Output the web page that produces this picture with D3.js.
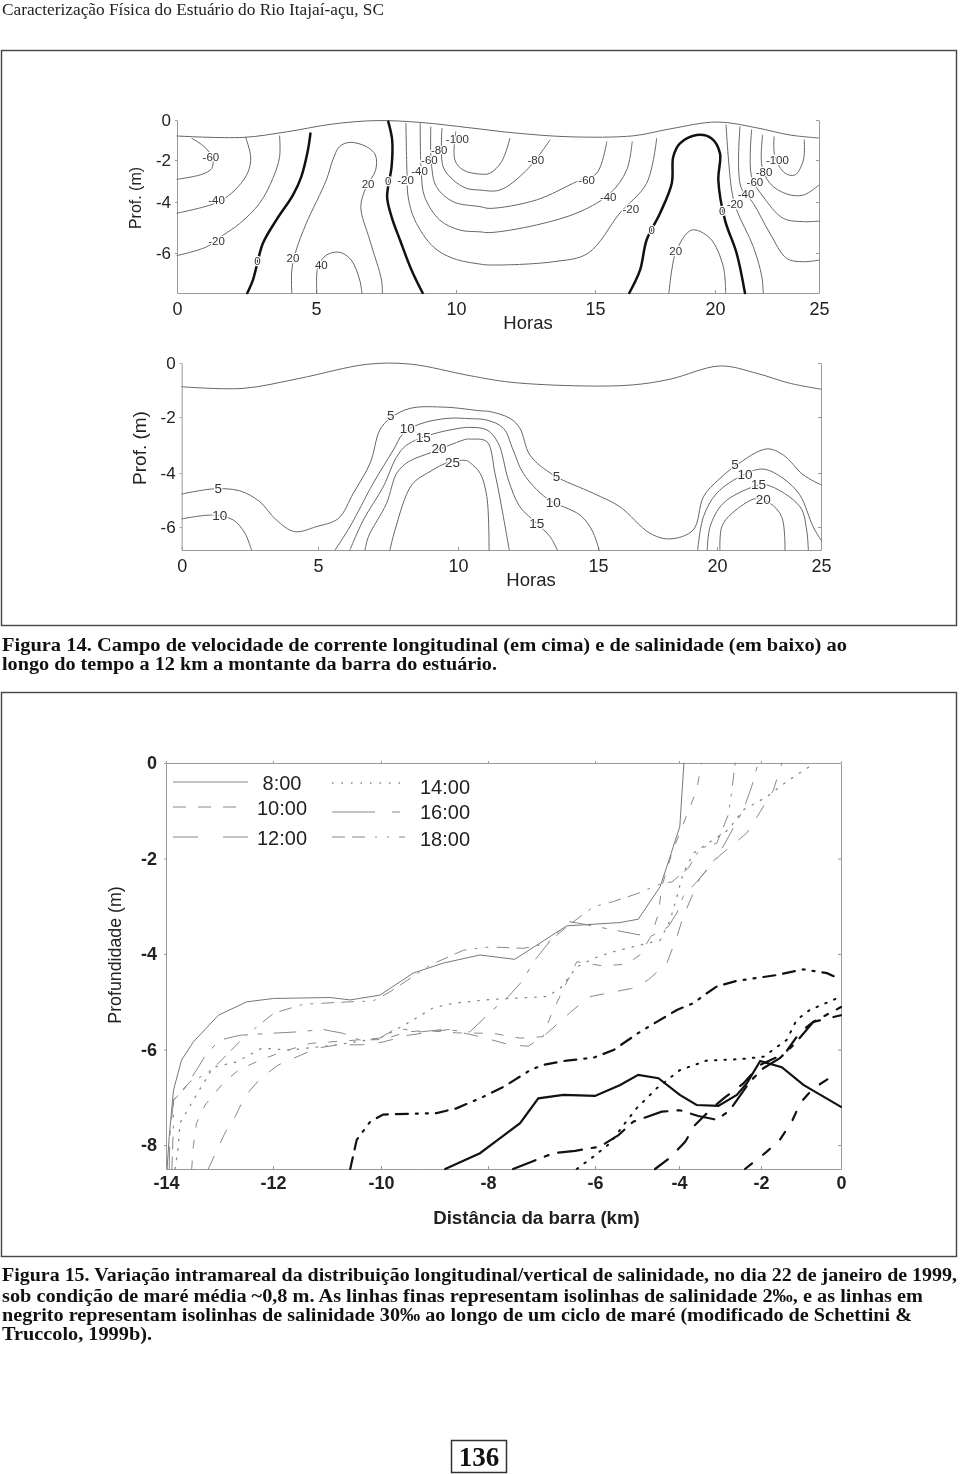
<!DOCTYPE html>
<html>
<head>
<meta charset="utf-8">
<script src="https://d3js.org/d3.v7.min.js"></script>
<style>
  html, body { margin: 0; padding: 0; background: #fff; }
  svg { display: block; }
  .plot { filter: blur(0.55px); }
  .axis path, .axis line { stroke: #999; stroke-width: 1; }
  .axis text { font-family: "Liberation Sans", Arial, sans-serif; fill: #222; }
  .title { font-family: "Liberation Sans", Arial, sans-serif; fill: #222; text-anchor: middle; }
  .clabel { font-family: "Liberation Sans", Arial, sans-serif; fill: #333; text-anchor: middle;
            dominant-baseline: central; paint-order: stroke; stroke: #fff; stroke-width: 2.5px; }
  .caption { font-family: "Liberation Serif", serif; font-weight: bold; font-size: 18px; fill: #111; }
  .line { fill: none; }
</style>
</head>
<body>
<svg width="960" height="1474"></svg>
<script>
var svg = d3.select("svg");

// ---- top plot: velocidade (horas, profundidade)
var hourTicks = [0, 5, 10, 15, 20, 25];
var depthTicksA = [0, -2, -4, -6];

var surfaceA = [[0,-0.8],[2.38,-0.87],[3.95,-0.59],[5.6,-0.2],[7.17,-0.03],[8.71,-0.12],[10.5,-0.39],[12.05,-0.64],[14.1,-0.84],[16.6,-0.79],[18.1,-0.45],[20.1,-0.1],[22,-0.39],[23.6,-0.75],[25,-0.9]];
var vel60L = [[0.54,-0.92],[1.01,-1.37],[1.28,-1.92],[1.25,-2.4],[0.9,-2.68],[0,-2.92]];
var vel40L = [[2.47,-0.87],[2.65,-1.84],[2.56,-2.56],[2.2,-3.27],[1.72,-3.82],[1.19,-4.12],[0,-4.44]];
var vel20L = [[3.69,-0.8],[3.69,-1.84],[3.45,-2.87],[2.97,-4.05],[2.26,-4.84],[1.66,-5.3],[1.06,-5.76],[0,-6.11]];
var vel20A = [[4.13,-7.7],[4.13,-6.72],[4.29,-5.88],[4.65,-4.84],[5.37,-2.95],[5.6,-2],[5.84,-1.33],[6.2,-1.12],[6.8,-1.33],[7.12,-1.75],[7.13,-2.48],[6.8,-3.27],[6.6,-4.18],[6.92,-5.49],[7.34,-7.15],[7.37,-7.7]];
var vel40A = [[5.03,-7.7],[5.07,-6.58],[5.37,-6.09],[5.84,-5.97],[6.26,-6.3],[6.56,-7.15],[6.64,-7.7]];
var vel20C = [[8.21,-0.17],[8.25,-2.63],[8.29,-3.75],[8.53,-4.71],[9.19,-5.76],[9.9,-6.23],[10.86,-6.47],[11.22,-6.51],[13.5,-6.37],[14.75,-6.01],[16.04,-4.43],[17.15,-3.11],[17.57,-0.92]];
var vel40C = [[8.72,-0.17],[8.76,-2.63],[8.88,-3.75],[9.42,-4.71],[10.14,-5.1],[10.86,-5.17],[11.22,-5.2],[12.9,-4.9],[14.46,-4.38],[15.63,-3.59],[16.32,-2.48],[16.55,-1.09]];
var vel60C = [[9.1,-0.34],[9.12,-2.16],[9.3,-3.27],[9.9,-3.99],[10.86,-4.18],[11.22,-4.25],[12.9,-3.9],[14.34,-3.03],[15.07,-2.63],[15.49,-1.09]];
var vel80C = [[9.5,-0.42],[9.54,-2.32],[9.9,-2.95],[10.38,-3.35],[10.86,-3.43],[11.58,-3.43],[12.54,-2.48],[13.38,-1]];
var vel100C = [[9.99,-0.59],[9.96,-2],[10.26,-2.48],[10.86,-2.67],[11.22,-2.63],[11.64,-2.08],[11.94,-0.92]];
var vel20B = [[18.08,-7.7],[18.2,-6.72],[18.4,-5.88],[19.03,-5.1],[19.79,-5.42],[20.4,-6.58],[20.51,-7.7]];
var vel100R = [[22.84,-0.84],[22.88,-1.84],[23.37,-2.63],[23.85,-2.71],[24.25,-2],[24.29,-1]];
var vel80R = [[22.29,-0.75],[22.25,-2.24],[22.64,-3.11],[23.45,-3.62],[24.25,-3.67],[25,-3.19]];
var vel60R = [[21.76,-0.5],[21.76,-2.8],[22.32,-3.75],[23.28,-4.64],[24.25,-4.77],[25,-4.75]];
var vel40R = [[21.2,-0.34],[21.24,-3.27],[21.84,-4.05],[22.64,-5.23],[23.45,-6.23],[24.25,-6.37],[25,-6.3]];
var vel20R = [[20.53,-0.25],[20.8,-3.43],[21.04,-4.31],[21.84,-5.75],[22.25,-7],[22.32,-7.7]];
var velZero1 = [[4.8,-0.67],[4.71,-1.5],[4.47,-2.8],[4.17,-3.67],[3.57,-4.71],[3.09,-5.62],[2.86,-6.58],[2.73,-7.15],[2.53,-7.7]];
var velZero2 = [[7.58,-0.08],[7.72,-1],[7.7,-2.32],[7.54,-3.75],[7.7,-4.58],[8,-5.49],[8.41,-6.72],[8.81,-7.7]];
var velZero3 = [[16.43,-7.7],[16.88,-6.72],[17.15,-5.49],[17.71,-4.44],[18.2,-3.11],[18.26,-1.84],[18.54,-1.17],[19.24,-0.75],[19.86,-0.92],[20.24,-1.67],[20.16,-2.95],[20.48,-4.71],[21.04,-6.01],[21.44,-7.7]];
var velLabels = [["-60",1.22,-1.84],["-40",1.42,-3.9],["-20",1.42,-5.52],["0",2.89,-6.34],["20",4.17,-6.23],["40",5.19,-6.51],["20",6.86,-3.16],["0",7.58,-2.99],["-20",8.2,-2.95],["-40",8.7,-2.5],["-60",9.05,-2],["-80",9.4,-1.48],["-100",10.05,-0.95],["-80",12.87,-2],["-60",14.7,-2.95],["-40",15.55,-3.75],["-20",16.49,-4.26],["0",17.36,-5.1],["20",18.36,-5.94],["0",20.35,-4.35],["-20",20.96,-4.08],["-40",21.49,-3.62],["-60",21.92,-3.06],["-80",22.36,-2.58],["-100",23,-2]];

// ---- middle plot: salinidade
var depthTicksB = [0, -2, -4, -6];
var surfaceB = [[0,-0.88],[2.25,-0.94],[4.32,-0.57],[6.74,-0.05],[8.29,-0.04],[10.43,-0.47],[11.86,-0.71],[14.48,-0.85],[16.48,-0.81],[18.03,-0.6],[20.14,-0.11],[21.9,-0.38],[23.5,-0.75],[25,-0.97]];
var sal5 = [[0,-4.78],[1.16,-4.59],[2.13,-4.66],[2.86,-5.06],[3.47,-5.74],[4.14,-6.17],[4.93,-5.99],[5.73,-5.68],[6.26,-4.75],[6.86,-3.65],[7.21,-2.46],[7.57,-2.05],[8.29,-1.68],[9.6,-1.64],[10.79,-1.77],[11.14,-1.8],[11.86,-2.05],[12.21,-2.4],[12.57,-3.36],[13.4,-4.07],[14.83,-4.75],[15.92,-5.25],[17.18,-6.23],[18.03,-6.44],[19,-6.11],[19.43,-4.88],[20.06,-4.26],[20.95,-3.71],[22.39,-3.14],[23.19,-3.36],[24.15,-4.07],[25,-4.44]];
var sal10L = [[0,-5.7],[1.16,-5.56],[1.89,-5.74],[2.32,-6.23],[2.56,-6.85]];
var sal10C = [[5.61,-6.85],[6.14,-5.99],[6.97,-4.38],[7.69,-3.18],[8.05,-2.58],[8.64,-2.25],[9.6,-2.05],[10.43,-2.06],[11.03,-2.11],[11.62,-2.4],[11.97,-3.18],[12.33,-4.01],[13.17,-4.94],[14.36,-5.56],[14.78,-6.11],[15.05,-6.85]];
var sal15C = [[6.14,-6.85],[6.62,-5.74],[7.33,-4.51],[7.81,-3.42],[8.17,-3],[9,-2.64],[10.07,-2.4],[10.43,-2.37],[11.03,-2.46],[11.44,-2.94],[11.8,-4.26],[12.21,-5.25],[12.81,-5.86],[13.29,-6.36],[13.55,-6.85]];
var sal20C = [[6.68,-6.85],[6.8,-6.36],[7.45,-5.12],[7.81,-4.01],[8.23,-3.6],[9.12,-3.24],[10.31,-2.79],[10.43,-2.79],[11.03,-2.88],[11.32,-4.01],[11.62,-5.62],[11.83,-6.85]];
var sal25C = [[7.57,-6.85],[7.75,-6.11],[8.35,-4.44],[9,-3.95],[9.71,-3.6],[10.31,-3.56],[10.43,-3.63],[10.79,-4.01],[11.03,-4.88],[11.11,-6.85]];
var sal10R = [[19.19,-6.85],[19.43,-5.62],[19.99,-4.75],[21.26,-4.07],[22.22,-3.86],[23.18,-4.2],[23.98,-4.81],[24.62,-5.99],[25,-6.48]];
var sal15R = [[19.59,-6.85],[19.71,-5.99],[20.3,-5.12],[21.75,-4.51],[22.39,-4.44],[23.99,-5.25],[24.31,-6.11],[24.39,-6.85]];
var sal20R = [[20.14,-6.85],[20.23,-5.99],[20.71,-5.5],[21.91,-4.94],[22.55,-5.12],[23.11,-5.62],[23.27,-6.85]];
var salLabels = [["5",1.34,-4.57],["10",1.4,-5.58],["5",7.6,-1.93],["10",8.19,-2.4],["15",8.76,-2.74],["20",9.32,-3.12],["25",9.8,-3.62],["5",13.52,-4.14],["10",13.4,-5.08],["15",12.81,-5.86],["5",20.87,-3.68],["10",21.35,-4.07],["15",21.99,-4.44],["20",22.23,-4.99]];

// ---- bottom plot: distancia da barra
var kmTicks = [-14, -12, -10, -8, -6, -4, -2, 0];
var depthTicksC = [0, -2, -4, -6, -8];
var thin8 = [[-13.98,-8.5],[-13.94,-7.82],[-13.86,-6.85],[-13.71,-6.22],[-13.49,-5.84],[-13.02,-5.28],[-12.49,-5],[-11.99,-4.93],[-10.94,-4.91],[-10.57,-4.96],[-10.02,-4.86],[-9.4,-4.4],[-8.84,-4.19],[-8.15,-4.02],[-7.5,-4.11],[-6.53,-3.41],[-5.4,-3.34],[-4.97,-3.27],[-4.45,-2.59],[-4.29,-2.17],[-3.98,-1.33],[-3.88,0]];
var thin10 = [[-13.52,-8.5],[-13.49,-8.03],[-13.43,-7.54],[-13.27,-7.16],[-12.96,-6.74],[-12.65,-6.43],[-12.24,-6.22],[-11.81,-6.04],[-11.31,-5.87],[-10.94,-5.84],[-10.45,-5.8],[-9.96,-5.79],[-9.52,-5.63],[-9.15,-5.6],[-8.59,-5.65],[-7.9,-5.66],[-7.4,-5.76],[-6.97,-5.73],[-6.81,-5.24],[-6.34,-4.16],[-5.8,-4.25],[-5.25,-4.21],[-4.93,-4.02],[-4.65,-3.6],[-4.49,-3.15],[-4.41,-2.59],[-4.17,-1.89],[-3.81,-1.09],[-3.57,-0.57],[-3.45,0]];
var thin12 = [[-13.21,-8.5],[-12.9,-7.75],[-12.71,-7.41],[-12.52,-6.97],[-12.23,-6.6],[-11.9,-6.32],[-11.19,-5.97],[-10.79,-5.9],[-10.36,-5.9],[-9.96,-5.84],[-9.49,-5.7],[-8.74,-5.58],[-8.15,-5.73],[-7.59,-5.9],[-7.25,-5.93],[-6.97,-5.73],[-6.41,-5.17],[-6.09,-4.89],[-5.13,-4.72],[-4.73,-4.54],[-4.29,-4.19],[-4.05,-3.64],[-3.9,-3.22],[-3.69,-2.8],[-3.49,-2.41],[-3,-1.93],[-2.35,-1.47],[-2.07,-1.09],[-1.69,-0.57],[-1.48,0]];
var thin14 = [[-13.83,-8.5],[-13.77,-8.03],[-13.74,-7.54],[-13.49,-7.06],[-13.12,-6.37],[-12.68,-6.26],[-12.21,-5.97],[-11.69,-6.01],[-10.82,-5.9],[-10.02,-5.76],[-9.83,-5.65],[-9.46,-5.42],[-9.03,-5.13],[-8.65,-5.03],[-7.96,-4.95],[-6.9,-4.89],[-6.65,-4.72],[-6.34,-4.27],[-6.03,-4.09],[-5.56,-3.95],[-4.45,-3.71],[-4.21,-3.29],[-4.05,-2.8],[-3.9,-2.31],[-3.65,-1.89],[-3.24,-1.65],[-2.8,-1.4],[-2.43,-0.98],[-1.86,-0.71],[-1.36,-0.39],[-0.65,0]];
var thin16 = [[-13.94,-8.5],[-13.93,-7.82],[-13.86,-7.06],[-13.64,-6.78],[-13.43,-6.43],[-13.24,-6.08],[-12.99,-5.8],[-12.62,-5.7],[-12.06,-5.66],[-11.56,-5.63],[-11.07,-5.58],[-10.7,-5.66],[-10.39,-5.8],[-10.02,-5.76],[-9.71,-5.55],[-9.27,-5.63],[-8.84,-5.58],[-8.34,-5.63],[-7.93,-5.19],[-7.62,-4.89],[-7.37,-4.58],[-7.12,-4.12],[-6.75,-3.6],[-6.47,-3.32],[-4.69,-3.64],[-4.26,-3.43],[-4.05,-3.14],[-3.9,-2.8],[-3.49,-2.41],[-3.04,-1.93],[-2.68,-1.37],[-2.43,-0.98],[-2.23,-0.5],[-2.07,0]];
var thin18 = [[-13.89,-8.5],[-13.86,-7.54],[-13.86,-7.06],[-13.68,-6.85],[-13.55,-6.67],[-13.27,-6.53],[-12.96,-6.22],[-12.56,-5.76],[-11.99,-5.24],[-11.44,-5.05],[-10.57,-5],[-10.14,-4.98],[-9.83,-4.79],[-9.08,-4.23],[-8.46,-3.92],[-7.96,-3.85],[-7.34,-3.88],[-6.9,-3.78],[-6.53,-3.43],[-6.03,-3.01],[-5.56,-2.9],[-5.01,-2.74],[-4.41,-2.52],[-4.17,-2.49],[-3.77,-2.2],[-3.49,-1.79],[-3.08,-1.68],[-2.8,-1.09],[-2.71,-0.57],[-2.63,0]];
var thick8 = [[-8.8,-8.5],[-8.15,-8.17],[-7.78,-7.86],[-7.4,-7.54],[-7.06,-7.02],[-6.59,-6.95],[-6,-6.97],[-5.4,-6.74],[-4.97,-6.53],[-4.49,-6.6],[-3.98,-6.95],[-3.57,-7.16],[-3.04,-7.18],[-2.59,-6.95],[-2.35,-6.71],[-2.02,-6.24],[-1.48,-6.37],[-0.94,-6.74],[0,-7.2]];
var thick10 = [[-2.39,-8.5],[-1.9,-8.17],[-1.53,-7.89],[-1.23,-7.51],[-1.02,-7.12],[-0.69,-6.81],[-0.2,-6.55]];
var thick12 = [[-4.57,-8.5],[-4.21,-8.26],[-3.85,-7.93],[-3.61,-7.58],[-3.2,-7.23],[-2.88,-7],[-2.43,-6.71],[-2.02,-6.32],[-1.4,-6.08],[-1.02,-5.63],[-0.69,-5.42],[0,-5.28]];
var thick14 = [[-6.34,-8.5],[-6.03,-8.24],[-5.64,-7.96],[-5.32,-7.58],[-5.01,-7.23],[-4.53,-6.81],[-3.98,-6.43],[-3.32,-6.23],[-2.51,-6.2],[-1.94,-6.15],[-1.36,-5.8],[-1.11,-5.38],[-0.78,-5.17],[0,-4.89]];
var thick16 = [[-7.53,-8.5],[-6.78,-8.17],[-6.37,-8.12],[-5.88,-8.03],[-5.44,-7.79],[-5.09,-7.51],[-4.41,-7.3],[-3.98,-7.27],[-3.53,-7.39],[-3.08,-7.47],[-2.76,-7.27],[-2.27,-6.67],[-1.94,-6.39],[-1.53,-6.18],[-1.15,-5.87],[-0.69,-5.42],[0,-5.11]];
var thick18 = [[-10.57,-8.5],[-10.45,-7.89],[-10.2,-7.51],[-9.96,-7.36],[-8.96,-7.33],[-8.59,-7.23],[-8.09,-6.99],[-7.71,-6.78],[-7.21,-6.43],[-6.97,-6.32],[-6.53,-6.23],[-6.03,-6.17],[-5.56,-6.01],[-4.93,-5.63],[-4.53,-5.42],[-4.05,-5.17],[-3.65,-5.03],[-3.32,-4.82],[-3.08,-4.68],[-2.59,-4.56],[-2.02,-4.49],[-1.61,-4.44],[-0.94,-4.32],[-0.35,-4.4],[0,-4.53]];

var legendNames = ["8:00", "10:00", "12:00", "14:00", "16:00", "18:00"];
var legendDash = ["", "13 12", "25 25", "1.5 8", "43 17 8 17", "13 7 13 10 2 10 2 10"];
var thinDash = ["", "8 13", "14 15", "1.5 8", "22 12 4 12", "12 8 12 9 2 9 2 9"];
var thickDash = ["", "9 14", "16 14", "1.5 8", "24 10 4 10", "12 8 12 8 2 8 2 8"];

// text blocks
var headerText = "Caracterização Física do Estuário do Rio Itajaí-açu, SC";
var caption14 = ["Figura 14. Campo de velocidade de corrente longitudinal (em cima) e de salinidade (em baixo) ao",
  "longo do tempo a 12 km a montante da barra do estuário."];
var caption15 = ["Figura 15. Variação intramareal da distribuição longitudinal/vertical de salinidade, no dia 22 de janeiro de 1999,",
  "sob condição de maré média ~0,8 m. As linhas finas representam isolinhas de salinidade 2‰, e as linhas em",
  "negrito representam isolinhas de salinidade 30‰ ao longo de um ciclo de maré (modificado de Schettini &",
  "Truccolo, 1999b)."];

// scales: the scanned figures have uneven axes, so they are piecewise
var xA = d3.scaleLinear().domain(hourTicks).range([177, 316, 456, 595, 715, 819]);
var yA = d3.scaleLinear().domain([0, -2, -4, -6, -7.7]).range([120, 160, 202, 253, 293]);
var xB = d3.scaleLinear().domain(hourTicks).range([181.7, 318, 458, 598, 717, 821]);
var yB = d3.scaleLinear().domain([0, -2, -4, -6, -6.85]).range([363, 417, 473, 527, 550]);
var xC = d3.scaleLinear().domain(kmTicks).range([166, 273, 381, 488, 595, 679, 761, 841]);
var yC = d3.scaleLinear().domain([0, -8.5]).range([763, 1169]);

function lineFor(x, y, curve) {
  return d3.line().x(function(d) { return x(d[0]); }).y(function(d) { return y(d[1]); }).curve(curve);
}

function axes(g, x, y, xTicks, yTicks, opts) {
  var bottom = y.range()[y.range().length - 1], left = x.range()[0], right = x.range()[x.range().length - 1];
  var plain = function(d) { return String(d); };
  var ax = g.append("g").attr("class", "axis").attr("transform", "translate(0," + bottom + ")")
    .call(d3.axisBottom(x).tickValues(xTicks).tickSize(-3).tickSizeOuter(0).tickPadding(opts.padX).tickFormat(plain));
  ax.selectAll("text").attr("font-size", opts.font).attr("dy", "0.71em");
  var ay = g.append("g").attr("class", "axis").attr("transform", "translate(" + left + ",0)")
    .call(d3.axisLeft(y).tickValues(yTicks).tickSize(2).tickSizeOuter(0).tickPadding(opts.padY).tickFormat(plain));
  ay.selectAll("text").attr("font-size", opts.yFont);
  g.append("g").attr("class", "axis").attr("transform", "translate(" + right + ",0)")
    .call(d3.axisLeft(y).tickValues(yTicks).tickSize(3).tickSizeOuter(0).tickFormat(""));
  if (opts.top) {
    g.append("g").attr("class", "axis").attr("transform", "translate(0," + y.range()[0] + ")")
      .call(d3.axisTop(x).tickValues(xTicks).tickSize(2).tickSizeOuter(0).tickFormat(""));
  }
}

function curves(g, list, path, color, width, dash) {
  g.selectAll(null).data(list).enter().append("path")
    .attr("class", "line")
    .attr("d", path)
    .attr("stroke", color)
    .attr("stroke-width", width)
    .attr("stroke-linecap", "round")
    .attr("stroke-dasharray", dash || null);
}

function labels(g, list, x, y, size) {
  g.selectAll(null).data(list).enter().append("text")
    .attr("class", "clabel")
    .attr("font-size", size)
    .attr("x", function(d) { return x(d[1]); })
    .attr("y", function(d) { return y(d[2]); })
    .text(function(d) { return d[0]; });
}

function title(g, txt, cx, cy, size, rotate) {
  g.append("text").attr("class", "title").attr("font-size", size)
    .attr("dominant-baseline", "central")
    .attr("transform", "translate(" + cx + "," + cy + ")" + (rotate ? " rotate(-90)" : ""))
    .text(txt);
}

// frames
svg.append("rect").attr("x", 1.5).attr("y", 50.5).attr("width", 955).attr("height", 575).attr("fill", "none").attr("stroke", "#444").attr("stroke-width", 1.4);
svg.append("rect").attr("x", 1.5).attr("y", 692.5).attr("width", 955).attr("height", 564).attr("fill", "none").attr("stroke", "#444").attr("stroke-width", 1.4);

// top plot
var gA = svg.append("g").attr("class", "plot");
axes(gA, xA, yA, hourTicks, depthTicksA, { font: 18, yFont: 17, padX: 9, padY: 4 });
var pathA = lineFor(xA, yA, d3.curveCatmullRom.alpha(0.5));
curves(gA, [surfaceA, vel60L, vel40L, vel20L, vel20A, vel40A, vel20C, vel40C, vel60C, vel80C, vel100C, vel20B, vel100R, vel80R, vel60R, vel40R, vel20R], pathA, "#666", 1);
curves(gA, [velZero1, velZero2, velZero3], pathA, "#111", 2.5);
labels(gA, velLabels, xA, yA, 11.5);
title(gA, "Prof. (m)", 135, 198, 16, true);
title(gA, "Horas", 528, 322, 18.5);

// middle plot
var gB = svg.append("g").attr("class", "plot");
axes(gB, xB, yB, hourTicks, depthTicksB, { font: 18, yFont: 17, padX: 9, padY: 4 });
var pathB = lineFor(xB, yB, d3.curveCatmullRom.alpha(0.5));
curves(gB, [surfaceB, sal5, sal10L, sal10C, sal15C, sal20C, sal25C, sal10R, sal15R, sal20R], pathB, "#666", 1);
labels(gB, salLabels, xB, yB, 13.5);
title(gB, "Prof. (m)", 139, 448, 19, true);
title(gB, "Horas", 531, 579, 18.5);

// bottom plot
var gC = svg.append("g").attr("class", "plot");
axes(gC, xC, yC, kmTicks, depthTicksC, { font: 18, yFont: 18, padX: 7, padY: 7, top: true });
var pathC = lineFor(xC, yC, d3.curveLinear);
[thin8, thin10, thin12, thin14, thin16, thin18].forEach(function(c, i) {
  curves(gC, [c], pathC, i == 0 ? "#777" : "#888", i == 3 ? 1.3 : 1, thinDash[i]);
});
[thick8, thick10, thick12, thick14, thick16, thick18].forEach(function(c, i) {
  curves(gC, [c], pathC, "#111", i == 3 ? 2 : 2.2, thickDash[i]);
});
gC.selectAll(".axis text").attr("font-weight", "bold");

// legend, two columns of three
legendNames.forEach(function(name, i) {
  var col = i < 3 ? 0 : 1, row = i % 3;
  var ly = [[782, 807, 837], [783, 812, 837]][col][row];
  var x0 = [173, 332][col], x1 = [248, 405][col];
  gC.append("line").attr("x1", x0).attr("x2", x1).attr("y1", ly).attr("y2", ly)
    .attr("stroke", "#888").attr("stroke-width", i == 3 ? 1.3 : 1).attr("stroke-dasharray", legendDash[i] || null);
  gC.append("text").attr("class", "title").attr("font-size", 20)
    .attr("x", [282, 445][col]).attr("y", [[783, 808, 838], [787, 812, 839]][col][row])
    .attr("dominant-baseline", "central").text(name);
});
title(gC, "Profundidade (m)", 115, 955, 17.8, true);
gC.append("text").attr("class", "title").attr("font-size", 18.7).attr("font-weight", "bold")
  .attr("x", 536.5).attr("y", 1217).attr("dominant-baseline", "central").text("Distância da barra (km)");

// page text
svg.append("text").attr("x", 2).attr("y", 14.5).attr("font-family", "Liberation Serif, serif")
  .attr("font-size", 16).attr("fill", "#222").attr("textLength", 382).attr("lengthAdjust", "spacingAndGlyphs").text(headerText);

function caption(lines, ys, ends) {
  lines.forEach(function(t, i) {
    svg.append("text").attr("class", "caption").attr("x", 2).attr("y", ys[i])
      .attr("textLength", ends[i] - 2).attr("lengthAdjust", "spacingAndGlyphs").text(t);
  });
}
caption(caption14, [651, 670], [847, 497]);
caption(caption15, [1281, 1301.5, 1321, 1339.5], [957, 923, 912, 152]);

svg.append("rect").attr("x", 451.5).attr("y", 1440.5).attr("width", 55).attr("height", 32).attr("fill", "none").attr("stroke", "#333").attr("stroke-width", 1.5);
svg.append("text").attr("x", 479).attr("y", 1466).attr("text-anchor", "middle").attr("font-family", "Liberation Serif, serif")
  .attr("font-weight", "bold").attr("font-size", 27).attr("fill", "#111").text("136");
</script>
</body>
</html>
